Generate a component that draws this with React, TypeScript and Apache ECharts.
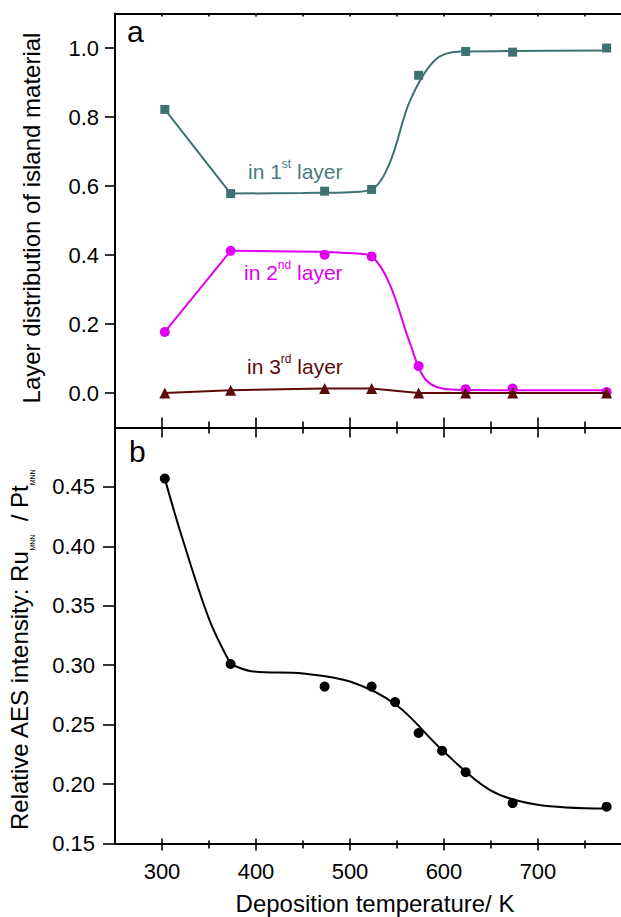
import React, { useEffect, useRef } from 'react';
import * as echarts from 'echarts';

// ---- data ----
const temps = [303, 373, 473, 523, 573, 623, 673, 773];
const layer1 = [0.822, 0.578, 0.585, 0.59, 0.921, 0.99, 0.988, 1.0];
const layer2 = [0.177, 0.412, 0.401, 0.396, 0.078, 0.011, 0.013, 0.003];
const layer3 = [0.0, 0.008, 0.013, 0.013, 0.0, 0.0, 0.0, 0.0];

// fitted guide curves
const layer1FitT = [373, 450, 500, 523, 542, 564, 590, 617, 673, 773];
const layer1FitV = [0.578, 0.58, 0.582, 0.59, 0.665, 0.848, 0.964, 0.99, 0.991, 0.993];
const layer2FitT = [373, 473, 507, 523, 542, 564, 581, 608, 673, 773];
const layer2FitV = [0.412, 0.409, 0.404, 0.396, 0.317, 0.143, 0.037, 0.01, 0.008, 0.008];

const aesT = [303, 373, 473, 523, 548, 573, 598, 623, 673, 773];
const aesV = [0.457, 0.301, 0.282, 0.282, 0.269, 0.243, 0.228, 0.21, 0.184, 0.181];
const aesFitAT = [303, 320, 350, 373];
const aesFitAV = [0.457, 0.411, 0.339, 0.301];
const aesFitBT = [373, 395, 450, 500, 549, 598, 649, 698, 773];
const aesFitBV = [0.301, 0.295, 0.293, 0.2863, 0.2667, 0.2287, 0.195, 0.1829, 0.1795];

const xMajorTicks = [300, 400, 500, 600, 700];
const xMinorTicks = [350, 450, 550, 650, 750];
const xTopTicks = [300, 350, 400, 450, 500, 550, 600, 650, 700, 750];
const yTopTicks = [0, 0.2, 0.4, 0.6, 0.8, 1.0];
const yBottomTicks = [0.15, 0.2, 0.25, 0.3, 0.35, 0.4, 0.45];

const X_MIN = 250;
const X_MAX = 788.3;

const TEAL = '#3e7272';
const TEAL_TXT = '#4a7a7a';
const MAGENTA = '#e000f0';
const DARKRED = '#5c0a0a';
const FONT = '"Liberation Sans", Arial, Helvetica, sans-serif';

const pairs = (xs: number[], ys: number[]) => xs.map((x, i) => [x, ys[i]]);

function xAxisDef(gridIndex: number, position: 'top' | 'bottom', opts: any) {
  return {
    type: 'value',
    gridIndex,
    position,
    min: X_MIN,
    max: X_MAX,
    splitLine: { show: false },
    axisLine: { show: !!opts.line, onZero: false, lineStyle: { color: '#000', width: 2 } },
    axisTick: {
      show: true,
      inside: !!opts.inside,
      length: opts.len,
      customValues: opts.ticks,
      lineStyle: { color: '#000', width: 1.6 },
    },
    axisLabel: opts.labels
      ? {
          show: true,
          customValues: xMajorTicks,
          margin: 17,
          color: '#000',
          fontSize: 22,
          fontFamily: FONT,
        }
      : { show: false },
  };
}

export default function App() {
  const ref = useRef<HTMLDivElement>(null);

  useEffect(() => {
    if (!ref.current) return;
    const chart = echarts.init(ref.current, undefined, { renderer: 'svg' });

    const option: any = {
      animation: false,
      backgroundColor: '#fff',
      grid: [
        { left: 115, top: 13.5, width: 506, height: 414 },
        { left: 115, top: 427.5, width: 506, height: 416 },
      ],
      xAxis: [
        xAxisDef(0, 'bottom', { line: true, inside: true, len: 10, ticks: xMajorTicks }),
        xAxisDef(0, 'bottom', { line: false, inside: true, len: 6, ticks: xMinorTicks }),
        xAxisDef(0, 'top', { line: true, inside: true, len: 3, ticks: xTopTicks }),
        xAxisDef(1, 'top', { line: true, inside: true, len: 10, ticks: xMajorTicks }),
        xAxisDef(1, 'top', { line: false, inside: true, len: 6, ticks: xMinorTicks }),
        xAxisDef(1, 'bottom', { line: true, inside: false, len: 7, ticks: xMajorTicks, labels: true }),
        xAxisDef(1, 'bottom', { line: false, inside: false, len: 5, ticks: xMinorTicks }),
        xAxisDef(1, 'bottom', { line: false, inside: true, len: 5, ticks: xMajorTicks }),
        xAxisDef(1, 'bottom', { line: false, inside: true, len: 3, ticks: xMinorTicks }),
      ],
      yAxis: [
        {
          type: 'value',
          gridIndex: 0,
          min: -0.1,
          max: 1.1,
          splitLine: { show: false },
          axisLine: { show: true, onZero: false, lineStyle: { color: '#000', width: 2 } },
          axisTick: { show: true, length: 10, customValues: yTopTicks, lineStyle: { color: '#000', width: 1.6 } },
          axisLabel: {
            customValues: yTopTicks,
            formatter: (v: number) => v.toFixed(1),
            margin: 16,
            color: '#000',
            fontSize: 22,
            fontFamily: FONT,
          },
        },
        {
          type: 'value',
          gridIndex: 1,
          min: 0.15,
          max: 0.5,
          splitLine: { show: false },
          axisLine: { show: true, onZero: false, lineStyle: { color: '#000', width: 2 } },
          axisTick: { show: true, length: 12, customValues: yBottomTicks, lineStyle: { color: '#000', width: 1.6 } },
          axisLabel: {
            customValues: yBottomTicks,
            formatter: (v: number) => v.toFixed(2),
            margin: 20,
            color: '#000',
            fontSize: 22,
            fontFamily: FONT,
          },
        },
      ],
      series: [
        // layer 1
        {
          type: 'line', xAxisIndex: 0, yAxisIndex: 0, symbol: 'none',
          data: pairs(temps.slice(0, 2), layer1.slice(0, 2)),
          lineStyle: { color: TEAL, width: 2 }, z: 2,
        },
        {
          type: 'line', xAxisIndex: 0, yAxisIndex: 0, symbol: 'none', smooth: 0.35,
          data: pairs(layer1FitT, layer1FitV),
          lineStyle: { color: TEAL, width: 2 }, z: 2,
        },
        {
          type: 'scatter', xAxisIndex: 0, yAxisIndex: 0, symbol: 'rect', symbolSize: 9,
          data: pairs(temps, layer1), itemStyle: { color: TEAL, opacity: 1 }, z: 3,
        },
        // layer 2
        {
          type: 'line', xAxisIndex: 0, yAxisIndex: 0, symbol: 'none',
          data: pairs(temps.slice(0, 2), layer2.slice(0, 2)),
          lineStyle: { color: MAGENTA, width: 2 }, z: 2,
        },
        {
          type: 'line', xAxisIndex: 0, yAxisIndex: 0, symbol: 'none', smooth: 0.35,
          data: pairs(layer2FitT, layer2FitV),
          lineStyle: { color: MAGENTA, width: 2 }, z: 2,
        },
        {
          type: 'scatter', xAxisIndex: 0, yAxisIndex: 0, symbol: 'circle', symbolSize: 10,
          data: pairs(temps, layer2), itemStyle: { color: MAGENTA, opacity: 1 }, z: 3,
        },
        // layer 3
        {
          type: 'line', xAxisIndex: 0, yAxisIndex: 0, symbol: 'triangle', symbolSize: 11, showSymbol: true,
          data: pairs(temps, layer3),
          lineStyle: { color: DARKRED, width: 2 }, itemStyle: { color: DARKRED, opacity: 1 }, z: 4,
        },
        // AES panel
        {
          type: 'line', xAxisIndex: 3, yAxisIndex: 1, symbol: 'none', smooth: 0.35,
          data: pairs(aesFitAT, aesFitAV),
          lineStyle: { color: '#000', width: 2 }, z: 2,
        },
        {
          type: 'line', xAxisIndex: 3, yAxisIndex: 1, symbol: 'none', smooth: 0.35,
          data: pairs(aesFitBT, aesFitBV),
          lineStyle: { color: '#000', width: 2 }, z: 2,
        },
        {
          type: 'scatter', xAxisIndex: 3, yAxisIndex: 1, symbol: 'circle', symbolSize: 10,
          data: pairs(aesT, aesV), itemStyle: { color: '#000', opacity: 1 }, z: 3,
        },
      ],
      graphic: [
        {
          type: 'text', left: 127, top: 16,
          style: { text: 'a', fontSize: 30, fontFamily: FONT, fill: '#000' },
        },
        {
          type: 'text', left: 129, top: 436,
          style: { text: 'b', fontSize: 30, fontFamily: FONT, fill: '#000' },
        },
        {
          type: 'text', x: 31, y: 218, rotation: Math.PI / 2,
          style: {
            text: 'Layer distribution of island material',
            fontSize: 24, fontFamily: FONT, fill: '#000', align: 'center', verticalAlign: 'middle',
          },
        },
        {
          type: 'text', x: 19, y: 650, rotation: Math.PI / 2,
          style: {
            text: 'Relative AES intensity: Ru{sub|MNN}  / Pt{sub|MNN}',
            fontSize: 24, fontFamily: FONT, fill: '#000', align: 'center', verticalAlign: 'middle',
            lineHeight: 34,
            rich: {
              sub: { fontSize: 7, fontFamily: FONT, fill: '#000', verticalAlign: 'bottom', lineHeight: 8 },
            },
          },
        },
        {
          type: 'text', x: 375, y: 903,
          style: {
            text: 'Deposition temperature/ K',
            fontSize: 24, fontFamily: FONT, fill: '#000', align: 'center', verticalAlign: 'middle',
          },
        },
        {
          type: 'text', x: 248, y: 158,
          style: {
            text: 'in 1{sup|st} layer', fontSize: 21, fontFamily: FONT, fill: TEAL_TXT, lineHeight: 26,
            verticalAlign: 'top',
            rich: { sup: { fontSize: 12, fontFamily: FONT, fill: TEAL_TXT, verticalAlign: 'top', lineHeight: 14 } },
          },
        },
        {
          type: 'text', x: 244, y: 259,
          style: {
            text: 'in 2{sup|nd} layer', fontSize: 21, fontFamily: FONT, fill: MAGENTA, lineHeight: 26,
            verticalAlign: 'top',
            rich: { sup: { fontSize: 12, fontFamily: FONT, fill: MAGENTA, verticalAlign: 'top', lineHeight: 14 } },
          },
        },
        {
          type: 'text', x: 247, y: 353,
          style: {
            text: 'in 3{sup|rd} layer', fontSize: 21, fontFamily: FONT, fill: DARKRED, lineHeight: 26,
            verticalAlign: 'top',
            rich: { sup: { fontSize: 12, fontFamily: FONT, fill: DARKRED, verticalAlign: 'top', lineHeight: 14 } },
          },
        },
      ],
    };

    chart.setOption(option);
    return () => chart.dispose();
  }, []);

  return (
    <div
      ref={ref}
      style={{ position: 'absolute', left: 0, top: 0, width: 621, height: 917, background: '#fff' }}
    />
  );
}
